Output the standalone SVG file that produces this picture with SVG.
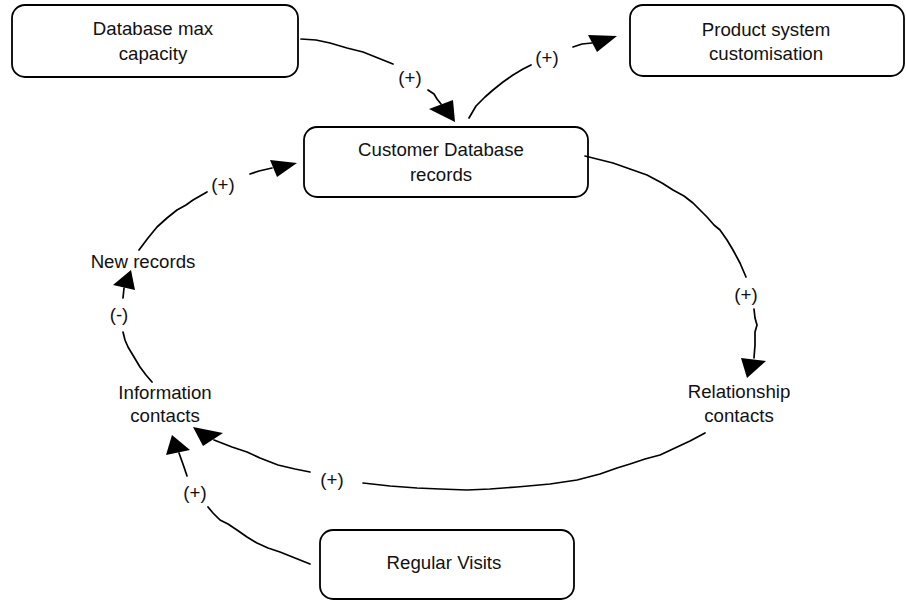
<svg xmlns="http://www.w3.org/2000/svg" width="906" height="600" viewBox="0 0 906 600">
  <style>
    .box { fill: #ffffff; stroke: #000000; stroke-width: 1.8; }
    .lbl { font-family: "Liberation Sans", Arial, sans-serif; font-size: 18.67px; fill: #111111; text-anchor: middle; }
    .link { fill: none; stroke: #000000; stroke-width: 1.7; stroke-linejoin: round; stroke-linecap: round; }
    .head { fill: #000000; stroke: none; }
  </style>
  <rect width="906" height="600" fill="#ffffff"/>

  <!-- stocks (boxed nodes) -->
  <g id="db-capacity">
    <rect class="box" x="12" y="5" width="286" height="72" rx="13"/>
    <text class="lbl" x="153" y="35">Database max</text>
    <text class="lbl" x="153" y="60">capacity</text>
  </g>
  <g id="product-customisation">
    <rect class="box" x="630" y="5" width="274" height="71" rx="13"/>
    <text class="lbl" x="766" y="36">Product system</text>
    <text class="lbl" x="766" y="60">customisation</text>
  </g>
  <g id="customer-records">
    <rect class="box" x="304" y="127" width="284" height="70" rx="13"/>
    <text class="lbl" x="441" y="156">Customer Database</text>
    <text class="lbl" x="441" y="181">records</text>
  </g>
  <g id="regular-visits">
    <rect class="box" x="320" y="530" width="254" height="69" rx="13"/>
    <text class="lbl" x="444" y="569">Regular Visits</text>
  </g>

  <!-- variables (unboxed nodes) -->
  <g id="new-records">
    <text class="lbl" x="143" y="268">New records</text>
  </g>
  <g id="information-contacts">
    <text class="lbl" x="165" y="399">Information</text>
    <text class="lbl" x="165" y="422">contacts</text>
  </g>
  <g id="relationship-contacts">
    <text class="lbl" x="739" y="398">Relationship</text>
    <text class="lbl" x="739" y="422">contacts</text>
  </g>

  <!-- causal links with polarity labels -->
  <g id="connectors">
    <!-- Database max capacity -> Customer Database records -->
    <path class="link" d="M301,39 L316,40 L330,43 L347,48 L363,52 L378,58 L393,64 M428,90 L434,94 L437,99 L441,104"/>
    <polygon class="head" points="429,109 453,100 455,122"/>
    <text class="lbl" x="410" y="84">(+)</text>

    <!-- Customer Database records -> Product system customisation -->
    <path class="link" d="M469,118 L476,106 L485,97 L493,90 L503,82 L513,75 L523,69 L531,65 M573,47 L582,44 L592,43"/>
    <polygon class="head" points="588,35 597,52 617,36"/>
    <text class="lbl" x="547" y="64">(+)</text>

    <!-- Customer Database records -> Relationship contacts -->
    <path class="link" d="M585,156 L613,163 L630,169 L647,175 L662,183 L673,190 L684,196 L693,203 L704,214 L707,217 L714,225 L720,230 L727,240 L733,250 L740,263 L746,277 M754,309 L755,318 L757,325 L755,332 L755,345 L754,358"/>
    <polygon class="head" points="741,358 766,361 747,378"/>
    <text class="lbl" x="746" y="301">(+)</text>

    <!-- Relationship contacts -> Information contacts -->
    <path class="link" d="M705,433 L690,441 L675,448 L660,455 L645,459 L630,464 L617,468 L600,474 L577,480 L550,484 L517,487 L490,489 L467,490 L440,489 L417,488 L390,486 L363,483 M310,472 L295,469 L278,465 L260,458 L247,452 L232,447 L214,440"/>
    <polygon class="head" points="203,446 223,433 193,427"/>
    <text class="lbl" x="332" y="486">(+)</text>

    <!-- Regular Visits -> Information contacts -->
    <path class="link" d="M310,564 L295,558 L280,552 L268,548 L257,543 L247,537 L237,530 L228,524 L220,520 L213,513 L208,507 M187,476 L184,467 L179,453"/>
    <polygon class="head" points="166,455 190,450 172,435"/>
    <text class="lbl" x="195" y="499">(+)</text>

    <!-- Information contacts -> New records -->
    <path class="link" d="M152,382 L146,375 L140,367 L134,357 L128,347 L125,340 L123,332 M123,298 L124,288"/>
    <polygon class="head" points="113,285 135,290 131,270"/>
    <text class="lbl" x="119" y="321">(-)</text>

    <!-- New records -> Customer Database records -->
    <path class="link" d="M139,250 L148,238 L157,227 L167,218 L177,210 L186,205 L193,200 L200,196 L207,192 M250,174 L259,171 L272,168"/>
    <polygon class="head" points="270,160 277,177 297,163"/>
    <text class="lbl" x="223" y="191">(+)</text>
  </g>
</svg>
